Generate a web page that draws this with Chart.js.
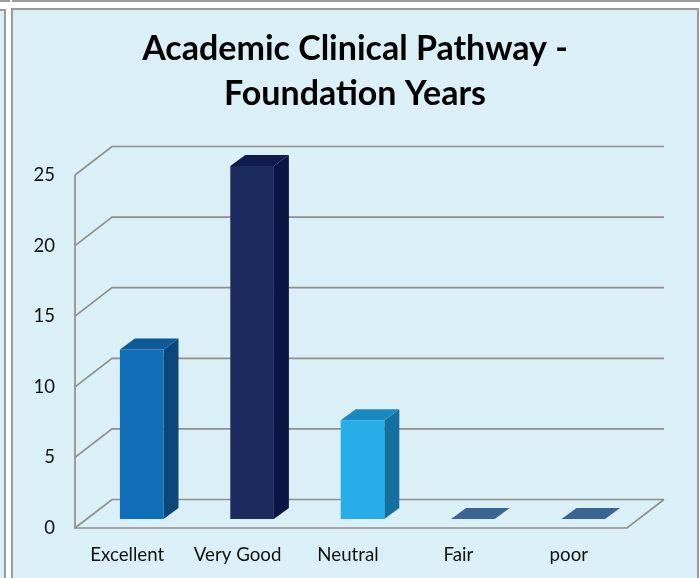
<!DOCTYPE html>
<html>
<head>
<meta charset="utf-8">
<style>
html,body{margin:0;padding:0;background:#fff;width:700px;height:578px;overflow:hidden}
.p{position:absolute;box-sizing:border-box}
#wrap{position:absolute;left:0;top:0;width:700px;height:578px}
</style>
<script src="https://cdn.jsdelivr.net/npm/chart.js@4"></script>
</head>
<body>
<div class="p" style="left:0;top:0;width:10px;height:2px;background:#9a9a9a"></div>
<div class="p" style="left:12px;top:0;width:688px;height:2px;background:#9a9a9a"></div>
<div class="p" style="left:-4px;top:9px;width:10px;height:580px;background:#dbeff6;border:2px solid #9a9a9a"></div>
<div class="p" style="left:11px;top:8px;width:688px;height:580px;background:#dbeff6;border:2px solid #9a9a9a"></div>
<div id="wrap"><canvas id="c" width="700" height="578"></canvas></div>
<script>
const titleLines = ["Academic Clinical Pathway -", "Foundation Years"];
const categories = ["Excellent", "Very Good", "Neutral", "Fair", "poor"];
const seriesValues = [12, 25, 7, 0, 0];
const frontColors = ["#116fb7", "#1d2a5d", "#27aee8", "#3a6593", "#3a6593"];
const sideColors = ["#0b4877", "#0c1643", "#14719f", "#3a6593", "#3a6593"];
const topColors = ["#0d5a96", "#121b4e", "#1a89bf", "#3a6593", "#3a6593"];
const yTicks = [0, 5, 10, 15, 20, 25];

const WALL_DX = 37, WALL_DY = -28.5;
const BAR_DX = 11.5, BAR_DY = -9;
const DEPTH_DX = 15, DEPTH_DY = -11;
const GRID = "#8f8f8f";

const wall3d = {
  id: "wall3d",
  beforeDatasetsDraw(chart) {
    const { ctx, scales: { x, y } } = chart;
    const l = x.left, r = x.right;
    ctx.save();
    ctx.strokeStyle = GRID;
    ctx.lineWidth = 1.7;
    yTicks.forEach(v => {
      const p = y.getPixelForValue(v);
      ctx.beginPath();
      ctx.moveTo(l, p);
      ctx.lineTo(l + WALL_DX, p + WALL_DY);
      ctx.lineTo(r + WALL_DX, p + WALL_DY);
      ctx.stroke();
    });
    const p0 = y.getPixelForValue(0), pTop = y.getPixelForValue(yTicks[yTicks.length - 1]);
    ctx.beginPath();
    ctx.moveTo(l, pTop);
    ctx.lineTo(l, p0);
    ctx.lineTo(r, p0);
    ctx.lineTo(r + WALL_DX, p0 + WALL_DY);
    ctx.stroke();
    ctx.restore();
    // everything the library draws next sits on the bar plane
    ctx.save();
    ctx.translate(BAR_DX, BAR_DY);
    const els = chart.getDatasetMeta(0).data;
    els.forEach((b, i) => {
      const half = b.width / 2;
      const xl = b.x - half, xr = b.x + half, yt = b.y, yb = b.base;
      ctx.fillStyle = sideColors[i];
      ctx.beginPath();
      ctx.moveTo(xr, yt);
      ctx.lineTo(xr + DEPTH_DX, yt + DEPTH_DY);
      ctx.lineTo(xr + DEPTH_DX, yb + DEPTH_DY);
      ctx.lineTo(xr, yb);
      ctx.closePath();
      ctx.fill();
      ctx.fillStyle = topColors[i];
      ctx.beginPath();
      ctx.moveTo(xl, yt);
      ctx.lineTo(xl + DEPTH_DX, yt + DEPTH_DY);
      ctx.lineTo(xr + DEPTH_DX, yt + DEPTH_DY);
      ctx.lineTo(xr, yt);
      ctx.closePath();
      ctx.fill();
    });
  },
  afterDatasetsDraw(chart) {
    chart.ctx.restore();
  }
};

new Chart(document.getElementById("c"), {
  type: "bar",
  data: {
    labels: categories,
    datasets: [{
      data: seriesValues,
      backgroundColor: frontColors,
      borderWidth: 0,
      categoryPercentage: 1,
      barPercentage: 0.395
    }]
  },
  options: {
    responsive: false,
    animation: false,
    events: [],
    layout: { padding: { left: 10, right: 0, top: 0, bottom: 0 } },
    plugins: {
      legend: { display: false },
      tooltip: { enabled: false },
      title: {
        display: true,
        text: titleLines,
        color: "#000",
        font: { family: "Lato", size: 34, weight: "bold", lineHeight: 45 / 34 },
        padding: { top: 27, bottom: 58 }
      }
    },
    scales: {
      x: {
        grid: { display: false },
        border: { display: false },
        ticks: { color: "#111", font: { family: "Lato", size: 18.7 }, labelOffset: -3, padding: 8, maxRotation: 0, autoSkip: false },
        afterFit(s) { s.height = 50; }
      },
      y: {
        min: 0, max: 25,
        grid: { display: false },
        border: { display: false },
        ticks: { stepSize: 5, color: "#111", font: { family: "Lato", size: 18.5 }, padding: 12 },
        afterFit(s) { s.width = 65; }
      },
      yRight: {
        position: "right",
        display: true,
        min: 0, max: 25,
        grid: { display: false },
        border: { display: false },
        ticks: { display: false },
        afterFit(s) { s.width = 73; }
      }
    }
  },
  plugins: [wall3d]
});
</script>
</body>
</html>
